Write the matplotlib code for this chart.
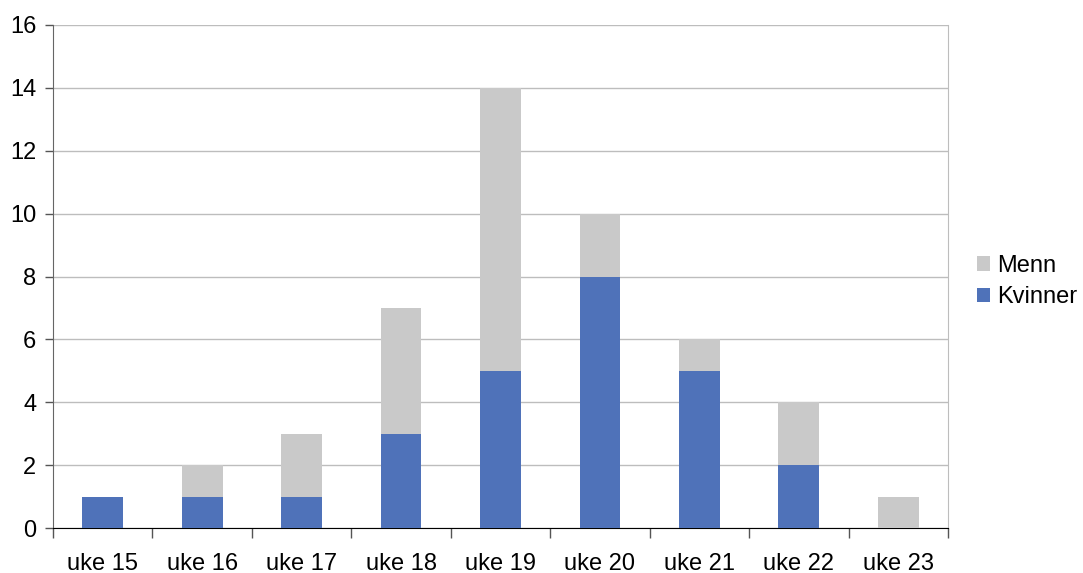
import numpy as np
import matplotlib
matplotlib.use('Agg')
import matplotlib.pyplot as plt

plt.rcParams['font.family'] = ['Liberation Sans', 'DejaVu Sans']

weeks = ["uke 15", "uke 16", "uke 17", "uke 18", "uke 19", "uke 20", "uke 21", "uke 22", "uke 23"]
kvinner = [1, 1, 1, 3, 5, 8, 5, 2, 0]
menn = [0, 1, 2, 4, 9, 2, 1, 2, 1]

blue = "#4F72B9"
grey = "#C9C9C9"

fig = plt.figure(figsize=(10.83, 5.73), dpi=100)
ax = fig.add_axes([0.0489, 0.0785, 0.8264, 0.8779])

x = np.arange(len(weeks))
ax.bar(x, kvinner, width=0.41, color=blue, label="Kvinner", zorder=3)
ax.bar(x, menn, width=0.41, bottom=kvinner, color=grey, label="Menn", zorder=3)

ax.set_xlim(-0.5, len(weeks) - 0.5)
ax.set_ylim(0, 16)
ax.set_yticks(range(0, 17, 2))
ax.yaxis.grid(True, color="#BDBDBD", linewidth=1)
ax.set_axisbelow(True)

ax.set_xticks(x)
ax.set_xticklabels(weeks)
ax.set_xticks(np.arange(-0.5, len(weeks)), minor=True)
ax.tick_params(axis='x', which='major', length=0, pad=18, labelsize=17)
ax.tick_params(axis='x', which='minor', length=7, width=1, color="#555555", direction='out')
ax.tick_params(axis='y', length=6, width=1, color="#555555", direction='out', labelsize=17, pad=6)

ax.spines['top'].set_visible(False)
ax.spines['right'].set_color("#BDBDBD")
ax.spines['left'].set_color("#666666")
ax.spines['bottom'].set_color("#000000")

handles, labels = ax.get_legend_handles_labels()
ax.legend(handles[::-1], labels[::-1], loc='center left', bbox_to_anchor=(1.022, 0.49),
          frameon=False, fontsize=17, handlelength=0.55, handleheight=0.55,
          handletextpad=0.3, labelspacing=0.4, borderaxespad=0)

fig.savefig("out.png", dpi=100)
